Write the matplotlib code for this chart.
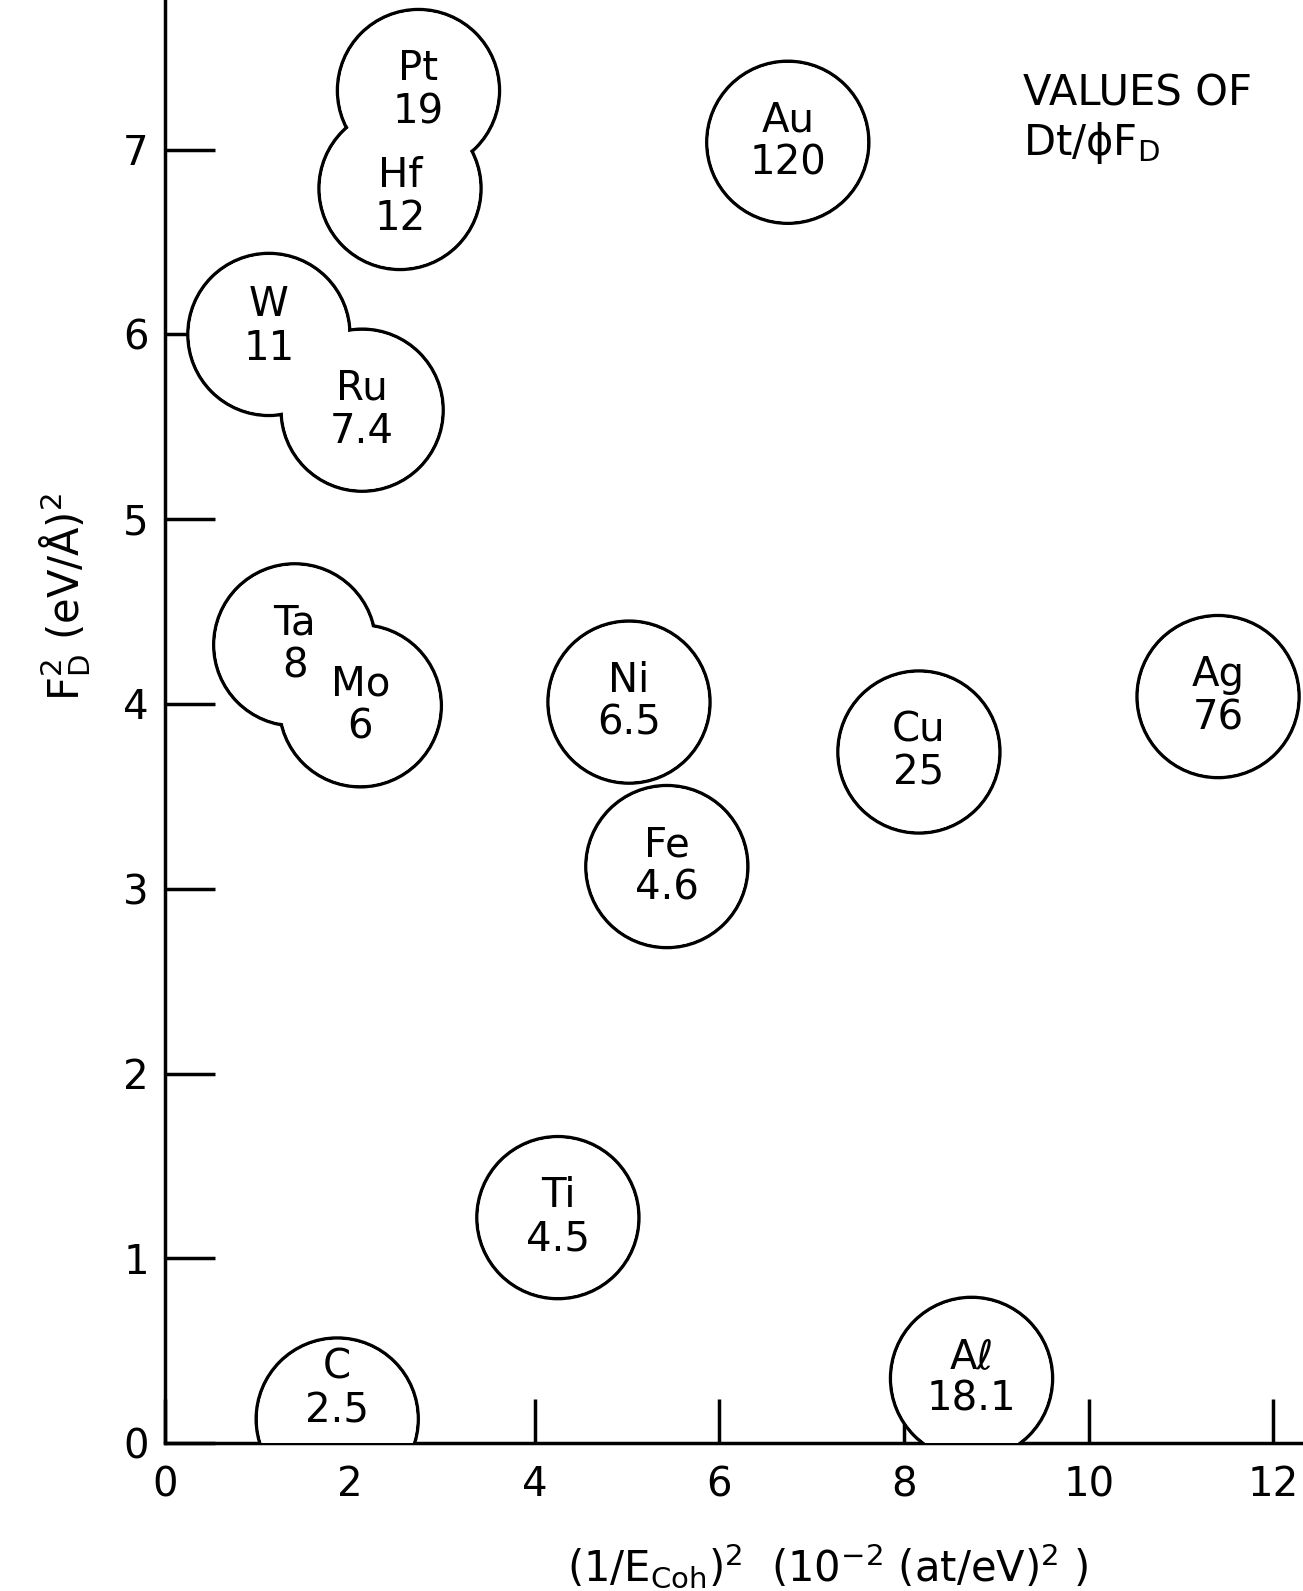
import matplotlib

matplotlib.use("Agg")
import matplotlib.pyplot as plt
from matplotlib.patches import Ellipse

# element, value of Dt/phiF_D, (1/E_coh)^2 and F_D^2
elements = ["Pt", "Hf", "Au", "W", "Ru", "Ta", "Mo", "Ni", "Cu", "Ag", "Fe", "Ti", "C", "Aℓ"]
values = ["19", "12", "120", "11", "7.4", "8", "6", "6.5", "25", "76", "4.6", "4.5", "2.5", "18.1"]
inv_ecoh2 = [2.74, 2.54, 6.74, 1.12, 2.13, 1.40, 2.11, 5.02, 8.16, 11.40, 5.43, 4.25, 1.86, 8.73]
fd2 = [7.32, 6.79, 7.04, 6.00, 5.59, 4.32, 3.99, 4.01, 3.74, 4.04, 3.12, 1.22, 0.13, 0.35]

x_ticks = [0, 2, 4, 6, 8, 10, 12]
y_ticks = [0, 1, 2, 3, 4, 5, 6, 7]

plt.rcParams["font.family"] = ["DejaVu Sans"]
plt.rcParams["mathtext.default"] = "regular"

W, H, DPI = 1303, 1591, 100
fig = plt.figure(figsize=(W / DPI, H / DPI), dpi=DPI)
ax = fig.add_axes([0.127, 0.093, 0.873, 0.907])
xlim = (0, 12.32)
ylim = (0, 7.81)
ax.set_xlim(*xlim)
ax.set_ylim(*ylim)

lw = 2.5
for side in ("top", "right"):
    ax.spines[side].set_visible(False)
for side in ("left", "bottom"):
    ax.spines[side].set_linewidth(lw)

ax.set_xticks(x_ticks)
ax.set_yticks(y_ticks)
ax.tick_params(axis="x", direction="in", length=32, width=lw, pad=16, labelsize=29)
ax.tick_params(axis="y", direction="in", length=36, width=lw, pad=12, labelsize=29)
ax.set_xticklabels([str(t) for t in x_ticks])
ax.set_yticklabels([str(t) for t in y_ticks])

# circles should look round on screen: convert radius between x and y units
ax_w = 0.873 * W
ax_h = 0.907 * H
px_x = ax_w / (xlim[1] - xlim[0])
px_y = ax_h / (ylim[1] - ylim[0])
r_px = 81
rx = r_px / px_x
ry = r_px / px_y
lw_px = lw * DPI / 72

# outlines first, then white disks to wipe the inner arcs where circles overlap
for x, y in zip(inv_ecoh2, fd2):
    ax.add_patch(Ellipse((x, y), 2 * rx, 2 * ry, facecolor="white",
                         edgecolor="black", lw=lw, zorder=3))
for x, y in zip(inv_ecoh2, fd2):
    ax.add_patch(Ellipse((x, y), 2 * (r_px - lw_px / 2) / px_x,
                         2 * (r_px - lw_px / 2) / px_y,
                         facecolor="white", edgecolor="none", zorder=3.5))

text_dy = {"C": 0.16, "Hf": -0.05, "W": 0.04}
for name, val, x, y in zip(elements, values, inv_ecoh2, fd2):
    ax.text(x, y + text_dy.get(name, 0), f"{name}\n{val}", ha="center", va="center",
            fontsize=29, linespacing=1.1, zorder=5)

fig.text(0.785, 0.925, "VALUES OF\nDt/$\\phi$F$_D$", ha="left", va="center",
         fontsize=30, linespacing=1.15)

fig.text(0.05, 0.625, "F$_D^2$ (eV/Å)$^2$", rotation=90, ha="center", va="center",
         fontsize=30)
fig.text(0.635, 0.016, "(1/E$_{Coh}$)$^2$  (10$^{-2}$ (at/eV)$^2$ )", ha="center",
         va="center", fontsize=30)

fig.savefig("out.png", dpi=DPI)
